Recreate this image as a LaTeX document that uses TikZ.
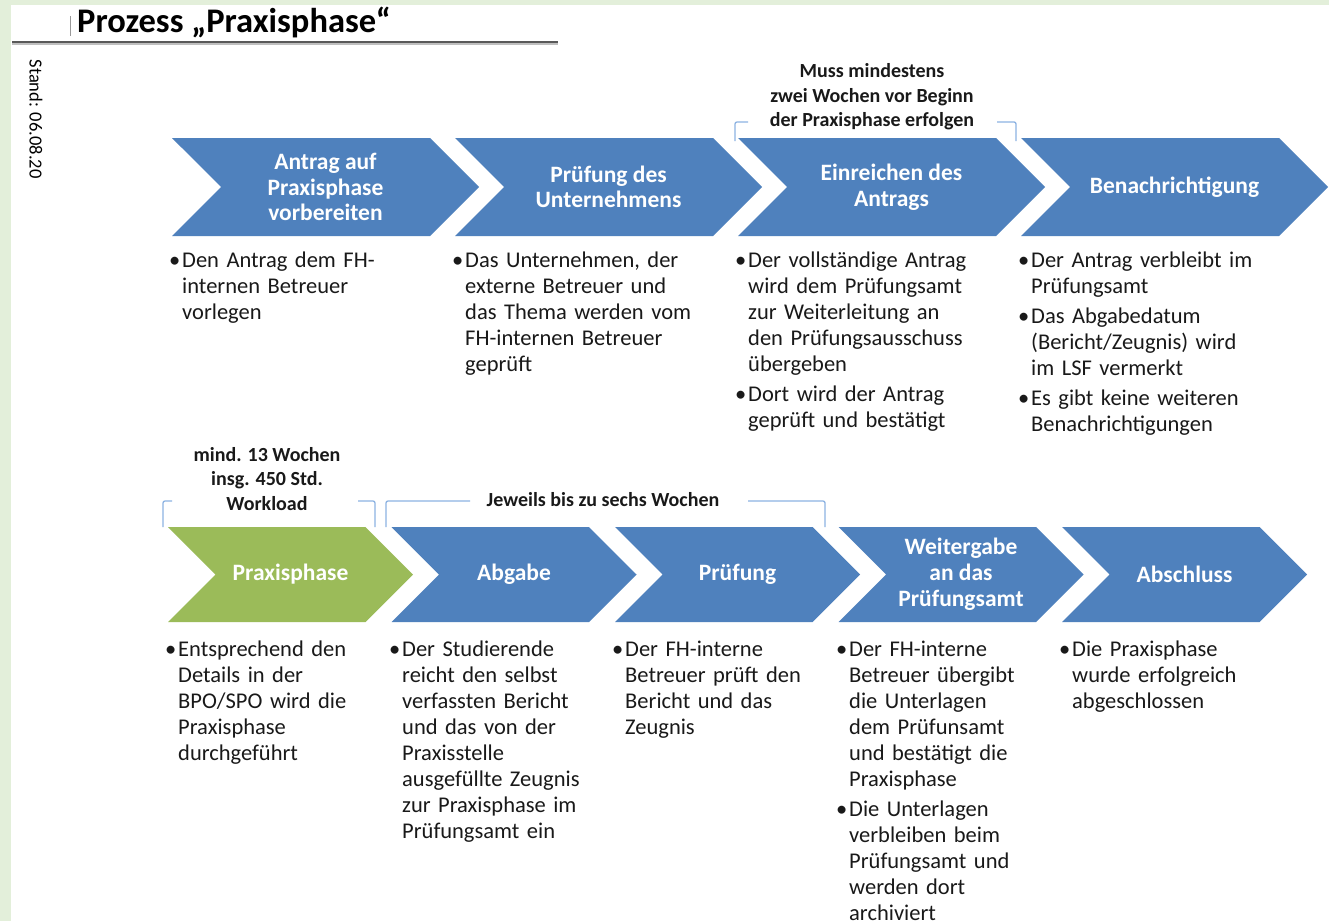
\documentclass[tikz,border=0pt]{standalone}
\usepackage{fontspec}
\setmainfont{Carlito}
\usetikzlibrary{shapes.symbols,positioning}
\definecolor{pfeilblau}{HTML}{4F81BD}
\definecolor{pfeilgruen}{HTML}{9BBB59}
\definecolor{rahmengruen}{HTML}{E3EFDA}
\definecolor{klammer}{HTML}{8DB3E2}

\tikzset{
  pfeil/.style={signal, signal from=west, signal to=east, signal pointer angle=90,
    fill=pfeilblau, text=white, font=\bfseries\fontsize{23.5}{25.5}\selectfont,
    align=center, inner sep=0pt},
  pfeiloben/.style={pfeil, minimum width=307, minimum height=98},
  pfeilunten/.style={pfeil, minimum width=245, minimum height=95,
    font=\bfseries\fontsize{23.5}{26}\selectfont},
  liste/.style={anchor=north west, inner sep=0pt, text width=300, align=left,
    text=black!90, font=\fontsize{22.5}{26}\selectfont},
  hinweis/.style={font=\bfseries\fontsize{20}{24.5}\selectfont, align=center,
    inner sep=0pt, text=black!90},
  klammerlinie/.style={draw=klammer, line width=1.3pt, rounded corners=2pt}
}
\newcommand{\punkt}[1]{{\let\\\newline\hangindent=13pt\hangafter=1\noindent\makebox[13pt][l]{\textbullet}#1\par}\vspace{4pt}}

\begin{document}
\begin{tikzpicture}[x=1pt, y=-1pt]
            % Rahmen
            \useasboundingbox (0,0) rectangle (1329,921);
            \fill[rahmengruen] (0,0) rectangle (1329,921);
            \fill[white] (11,5) rectangle (1329,921);

            % Titel
            \draw[black!40, line width=1pt] (70,16) -- (70,36);
            \node[anchor=west, inner sep=0pt, font=\bfseries\fontsize{34.5}{35}\selectfont] (titel) at (77,22) {Prozess „Praxisphase“};
            \draw[black!25, line width=1.5pt] (12,44) -- (558,44);
            \draw[black!65, line width=1.8pt] (12,42) -- (558,42);
            \node[rotate=-90, inner sep=0pt, font=\fontsize{18.5}{19}\selectfont] (stand) at (36,119) {Stand: 06.08.20};

            % Obere Reihe
            \node[pfeiloben] (antrag) at (325.5,187) {Antrag auf\\Praxisphase\\vorbereiten};
            \node[pfeiloben] (pruefung) at (608.5,187) {Prüfung des\\Unternehmens};
            \node[pfeiloben] (einreichen) at (891.5,187) {Einreichen des\\Antrags};
            \node[pfeiloben] (nachricht) at (1174.5,187) {Benachrichtigung};

            \node[hinweis] (frist) at (872,97) {Muss mindestens\\zwei Wochen vor Beginn\\der Praxisphase erfolgen};
            \draw[klammerlinie] (735,141) -- (735,122) -- (748,122);
            \draw[klammerlinie] (997,122) -- (1016,122) -- (1016,141);

            \node[liste] (textantrag) at (169,252) {%
              \punkt{Den Antrag dem FH-\\internen Betreuer\\vorlegen}};
            \node[liste] (textpruefung) at (452,252) {%
              \punkt{Das Unternehmen, der\\externe Betreuer und\\das Thema werden vom\\FH-internen Betreuer\\geprüft}};
            \node[liste] (texteinreichen) at (735,252) {%
              \punkt{Der vollständige Antrag\\wird dem Prüfungsamt\\zur Weiterleitung an\\den Prüfungsausschuss\\übergeben}
              \punkt{Dort wird der Antrag\\geprüft und bestätigt}};
            \node[liste] (textnachricht) at (1018,252) {%
              \punkt{Der Antrag verbleibt im\\Prüfungsamt}
              \punkt{Das Abgabedatum\\(Bericht/Zeugnis) wird\\im LSF vermerkt}
              \punkt{Es gibt keine weiteren\\Benachrichtigungen}};

            % Untere Reihe
            \node[pfeilunten, fill=pfeilgruen] (praxis) at (290.5,574.5) {Praxisphase};
            \node[pfeilunten] (abgabe) at (514,574.5) {Abgabe};
            \node[pfeilunten] (pruef) at (737.5,574.5) {Prüfung};
            \node[pfeilunten] (weiter) at (961,574.5) {Weitergabe\\an das\\Prüfungsamt};
            \node[pfeilunten] (abschluss) at (1184.5,574.5) {Abschluss};

            \node[hinweis] (dauer) at (267,479) {mind. 13 Wochen\\insg. 450 Std.\\Workload};
            \draw[klammerlinie] (163,527) -- (163,501) -- (172,501);
            \draw[klammerlinie] (358,501) -- (375,501) -- (375,527);
            \node[hinweis] (jeweils) at (603,500) {Jeweils bis zu sechs Wochen};
            \draw[klammerlinie] (386,527) -- (386,501) -- (470,501);
            \draw[klammerlinie] (748,501) -- (825,501) -- (825,527);

            \node[liste] (textpraxis) at (165,641) {%
              \punkt{Entsprechend den\\Details in der\\BPO/SPO wird die\\Praxisphase\\durchgeführt}};
            \node[liste] (textabgabe) at (389,641) {%
              \punkt{Der Studierende\\reicht den selbst\\verfassten Bericht\\und das von der\\Praxisstelle\\ausgefüllte Zeugnis\\zur Praxisphase im\\Prüfungsamt ein}};
            \node[liste] (textpruef) at (612,641) {%
              \punkt{Der FH-interne\\Betreuer prüft den\\Bericht und das\\Zeugnis}};
            \node[liste] (textweiter) at (836,641) {%
              \punkt{Der FH-interne\\Betreuer übergibt\\die Unterlagen\\dem Prüfunsamt\\und bestätigt die\\Praxisphase}
              \punkt{Die Unterlagen\\verbleiben beim\\Prüfungsamt und\\werden dort\\archiviert}};
            \node[liste] (textabschluss) at (1059,641) {%
              \punkt{Die Praxisphase\\wurde erfolgreich\\abgeschlossen}};
\end{tikzpicture}
\end{document}
